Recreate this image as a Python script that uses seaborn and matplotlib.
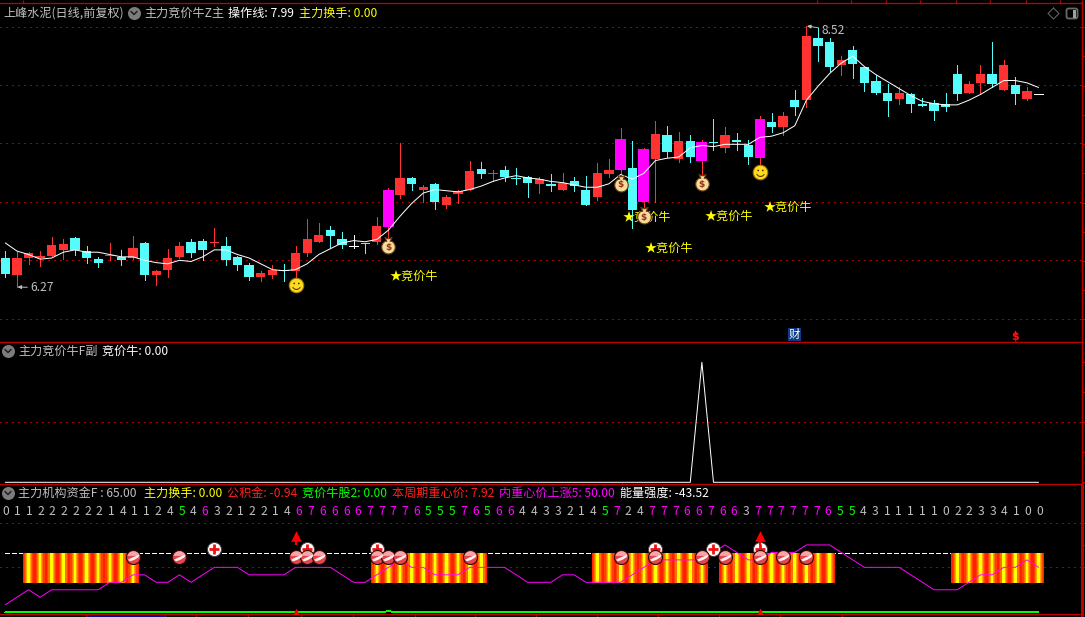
import numpy as np
import pandas as pd
import seaborn as sns
import matplotlib
matplotlib.use("Agg")
import matplotlib.pyplot as plt
from matplotlib.path import Path
from matplotlib.patches import FancyBboxPatch, Rectangle

# ---------------------------------------------------------------- data
open_p = [6.52,6.37,6.52,6.52,6.54,6.59,6.69,6.58,6.51,6.54,6.53,6.52,6.65,6.37,6.42,6.53,6.66,6.67,6.65,6.62,
          6.53,6.46,6.36,6.37,6.42,6.41,6.56,6.66,6.76,6.68,6.62,6.65,6.66,6.79,7.06,7.21,7.11,7.16,6.98,7.07,
          7.11,7.29,7.24,7.28,7.21,7.22,7.16,7.16,7.11,7.18,7.11,7.05,7.24,7.28,7.30,7.00,7.37,7.58,7.37,7.53,
          7.36,7.52,7.47,7.54,7.49,7.38,7.69,7.65,7.88,7.88,8.42,8.38,8.18,8.31,8.17,8.05,7.94,7.89,7.93,7.85,
          7.86,7.85,8.11,7.94,8.03,8.11,7.97,8.01,7.89,7.93]
high_p = [6.58,6.58,6.57,6.58,6.70,6.68,6.70,6.62,6.53,6.65,6.59,6.71,6.66,6.42,6.60,6.66,6.68,6.68,6.78,6.70,
          6.54,6.48,6.41,6.46,6.47,6.62,6.86,6.82,6.80,6.74,6.72,6.65,6.87,7.12,7.51,7.22,7.15,7.17,7.06,7.11,
          7.36,7.35,7.28,7.31,7.30,7.23,7.22,7.24,7.25,7.22,7.23,7.34,7.37,7.64,7.53,7.47,7.70,7.66,7.61,7.58,
          7.54,7.72,7.65,7.60,7.54,7.74,7.77,7.78,7.97,8.52,8.50,8.42,8.26,8.35,8.17,8.10,8.02,7.99,7.94,7.90,
          7.88,7.94,8.18,8.05,8.18,8.38,8.23,8.08,7.99,7.93]
low_p  = [6.36,6.27,6.47,6.45,6.54,6.51,6.55,6.48,6.44,6.50,6.46,6.51,6.33,6.29,6.36,6.52,6.53,6.50,6.62,6.46,
          6.42,6.33,6.32,6.35,6.32,6.35,6.54,6.66,6.61,6.61,6.61,6.56,6.64,6.69,7.04,7.11,7.00,6.94,6.95,6.99,
          7.11,7.21,7.18,7.18,7.16,7.05,7.08,7.10,7.11,7.10,6.98,7.02,7.22,7.24,6.78,6.93,7.00,7.39,7.35,7.35,
          7.24,7.45,7.43,7.45,7.33,7.32,7.61,7.58,7.75,7.82,8.22,8.13,8.10,8.07,7.96,7.93,7.74,7.85,7.78,7.83,
          7.71,7.79,7.88,7.94,7.93,7.99,7.97,7.85,7.88,7.93]
close_p = [6.38,6.52,6.56,6.54,6.63,6.64,6.59,6.52,6.48,6.55,6.50,6.61,6.37,6.41,6.52,6.62,6.56,6.59,6.66,6.50,
           6.46,6.36,6.39,6.42,6.41,6.56,6.68,6.72,6.71,6.63,6.62,6.64,6.80,7.11,7.21,7.16,7.13,7.00,7.05,7.10,
           7.27,7.24,7.25,7.22,7.20,7.17,7.20,7.14,7.17,7.14,6.98,7.25,7.28,7.55,6.93,7.46,7.59,7.43,7.53,7.39,
           7.52,7.51,7.58,7.52,7.39,7.72,7.65,7.74,7.82,8.43,8.35,8.17,8.23,8.19,8.03,7.94,7.87,7.94,7.85,7.83,
           7.79,7.82,7.93,8.02,8.11,8.02,8.18,7.93,7.96,7.93]
ma_line = [6.65,6.58,6.55,6.51,6.52,6.57,6.59,6.57,6.57,6.55,6.53,6.53,6.50,6.48,6.47,6.50,6.49,6.53,6.59,6.59,
           6.55,6.52,6.47,6.42,6.41,6.42,6.47,6.55,6.60,6.65,6.67,6.66,6.68,6.76,6.88,6.99,7.08,7.11,7.10,7.09,
           7.11,7.14,7.18,7.21,7.23,7.21,7.20,7.18,7.17,7.15,7.13,7.13,7.16,7.24,7.20,7.25,7.36,7.38,7.39,7.47,
           7.49,7.48,7.50,7.50,7.50,7.56,7.57,7.60,7.66,7.88,8.00,8.11,8.20,8.26,8.17,8.10,8.04,7.98,7.92,7.87,
           7.85,7.84,7.84,7.88,7.93,7.99,8.05,8.05,8.03,7.99]
signal_days = [33, 53, 55, 60, 65]          # magenta candles
bag_days = [33, 53, 55, 60]
bag_prices = [6.63, 7.17, 6.89, 7.175]
smile_days = [25, 65]
smile_prices = [6.287, 7.261]
label_days = [33.1, 53.2, 55.1, 60.2, 65.3]
label_prices = [6.365, 6.87, 6.606, 6.88, 6.96]
grid_prices = [5.99, 6.50, 7.00, 7.51, 8.01, 8.51]

spike_values = [0.0]*60 + [100.0] + [0.0]*29

digits = [0,1,1,2,2,2,2,2,2,1,4,1,1,2,4,5,4,6,3,2,1,2,2,1,4,6,7,6,6,6,6,7,7,7,7,6,5,5,5,7,6,5,6,6,4,
          4,3,3,2,1,4,5,7,2,4,7,7,7,6,6,7,6,6,3,7,7,7,7,7,7,6,5,5,4,3,1,1,1,1,1,0,2,2,3,3,4,1,0,0]
level_line = [0,1,2,1,2,2,2,2,2,3,3,4,4,3,3,4,3,4,5,5,5,4,4,4,4,5,5,5,5,4,3,3,4,5,6,5,5,4,4,4,
              5,5,5,5,4,3,3,3,4,4,3,3,3,3,4,5,6,6,6,6,6,7,8,7,6,6,7,7,7,8,8,8,7,6,5,5,5,5,4,3,
              2,2,2,3,4,4,5,5,6,5]
bottom_line = [-1.02]*33 + [-0.88] + [-1.02]*56
band_spans = [(2, 11), (32, 41), (51, 60), (62, 71), (82, 89)]
band_low, band_high = 2.905, 6.88
ball_days = [11, 15, 25, 26, 27, 32, 33, 34, 40, 53, 56, 60, 62, 65, 67, 69]
plus_days = [18, 26, 32, 56, 61, 65]
arrow_days = [25, 65]

# ---------------------------------------------------------------- style
sns.set_theme(style="dark", rc={"figure.facecolor": "black", "axes.facecolor": "black",
                                "savefig.facecolor": "black"})
plt.rcParams["font.family"] = ["Noto Sans CJK SC", "DejaVu Sans"]
plt.rcParams["axes.unicode_minus"] = False

RED_LINE = "#c00000"
DOT = "#a00000"
RED = "#ff3232"
CYAN = "#54fcfc"
MAG = "#ff00ff"
GRAY = "#c0c0c0"
YEL = "#ffff00"
W, H = 1085, 617
FS = 8.7
THIN = 0.7
CURVE = 0.72

fig = plt.figure(figsize=(W/100, H/100), dpi=100, facecolor="black")


def panel(top, bottom, right=1081.5):
    return fig.add_axes([0, 1-bottom/H, right/W, (bottom-top)/H])


ax1 = panel(3.3, 342.3)
ax2 = panel(342.3, 484.3)
ax3 = panel(484.3, 614.3)
xlim = (-0.457, 92.7)
for a in (ax1, ax2, ax3):
    a.set_xlim(*xlim)
    a.set_facecolor("black")
    a.set_xticks([])
    a.yaxis.tick_right()
    a.tick_params(axis="y", length=2.2, width=0.8, color=RED_LINE, labelright=False, right=True, pad=0)
    a.grid(False)
    for s in a.spines.values():
        s.set_color(RED_LINE)
        s.set_linewidth(0.9)
    a.spines["left"].set_visible(False)
ax3.spines["right"].set_linewidth(2.0)

ax1.set_ylim(8.744-0.00862*342.3, 8.744-0.00862*3.3)
ax2.set_ylim(-1.67, 116.67)
ax3.set_ylim(-1.285, 16.12)
ax1.set_yticks(np.linspace(grid_prices[0], grid_prices[-1], 11))
ax2.set_yticks([0, 25, 50, 75, 100])
ax3.set_yticks([5, 8, 11])

dotted = (0, (1.2, 3.8))
for g in grid_prices:
    ax1.axhline(g, color=DOT, lw=0.8, ls=dotted, zorder=1, antialiased=False)
ax2.axhline(50, color=DOT, lw=0.8, ls=dotted, zorder=1, antialiased=False)
for g in (5, 11):
    ax3.axhline(g, color=DOT, lw=0.8, ls=dotted, zorder=1, antialiased=False)

# ---------------------------------------------------------------- candles
df = pd.DataFrame({"i": np.arange(len(open_p)), "o": open_p, "h": high_p, "l": low_p, "c": close_p, "ma": ma_line})
for r in df.itertuples():
    if r.i in signal_days:
        body, wick, width = MAG, RED, 0.93
    elif r.c > r.o:
        body, wick, width = RED, RED, 0.8
    elif r.c < r.o:
        body, wick, width = CYAN, CYAN, 0.8
    else:
        body, wick, width = "white", "white", 0.72
    ax1.vlines(r.i, r.l, r.h, color=wick, lw=THIN, zorder=3, antialiased=False)
    if r.c == r.o:
        ax1.hlines(r.c, r.i-width/2, r.i+width/2, color=body, lw=THIN, zorder=3, antialiased=False)
    else:
        ax1.bar(r.i, abs(r.c-r.o), bottom=min(r.o, r.c), width=width, color=body, lw=0, zorder=4, antialiased=False)
sns.lineplot(data=df, x="i", y="ma", ax=ax1, color="white", lw=CURVE, estimator=None, errorbar=None,
             legend=False, zorder=5)
ax1.set_xlabel("")
ax1.set_ylabel("")


def shape(*polys):
    verts, codes = [], []
    for p in list(polys) + [[(1, 1), (1, 1), (1, 1)]]:
        verts += list(p) + [p[0]]
        codes += [Path.MOVETO] + [Path.LINETO]*(len(p)-1) + [Path.CLOSEPOLY]
    return Path(verts, codes)


def arc(cx, cy, r, a0, a1, n=14):
    t = np.radians(np.linspace(a0, a1, n))
    return [(cx+r*np.cos(v), cy+r*np.sin(v)) for v in t]


bag = shape([(-.2, .5), (-.42, .95), (-.1, .8), (.1, .8), (.42, .95), (.2, .5)] + arc(0, -.2, .8, 60, -240, 22))
bag_size = (17*.72)**2
ax1.scatter(bag_days, bag_prices, marker=bag, s=bag_size, c="#f4dc9c", edgecolors="#6b3a10", linewidths=.8, zorder=8)
for d, p in zip(bag_days, bag_prices):
    ax1.text(d, p-0.018, "$", color="#9a3010", fontsize=6.5, fontweight="bold", ha="center", va="center",
             family="DejaVu Sans", zorder=9)
ax1.scatter(smile_days, smile_prices, s=(14.5*.72)**2, c="#ffdc1e", edgecolors="#a87810", linewidths=.8, zorder=8)
face = shape(arc(-.32, .28, .13, 0, 360, 8), arc(.32, .28, .13, 0, 360, 8),
             arc(0, 0, .62, 200, 340, 10) + arc(0, .05, .52, 335, 205, 10))
ax1.scatter(smile_days, smile_prices, marker=face, s=(14.5*.72)**2, c="#503000", linewidths=0, zorder=9)
for d, p in zip(label_days, label_prices):
    ax1.text(d, p, "★竞价牛", color=YEL, fontsize=FS, va="center", ha="left", zorder=7)

arrow = dict(arrowstyle="-|>,head_width=.12,head_length=.25", color=GRAY, lw=.7, shrinkA=0, shrinkB=0)
ax1.annotate("6.27", xy=(df.i[1]+.05, min(low_p)), xytext=(9.4, -.5), textcoords="offset points", color=GRAY,
             fontsize=FS, va="center", arrowprops=arrow, zorder=8)
ax1.annotate("8.52", xy=(df.i[69]+.05, max(high_p)), xytext=(10.6, -3), textcoords="offset points", color=GRAY,
             fontsize=FS, va="center", arrowprops=arrow, zorder=8)

# ---------------------------------------------------------------- middle panel
sns.lineplot(x=df.i, y=spike_values, ax=ax2, color="white", lw=CURVE, estimator=None, errorbar=None,
             legend=False, zorder=4)
ax2.set_xlabel("")
ax2.set_ylabel("")

# ---------------------------------------------------------------- lower panel
ax3.hlines(6.88, 0, 89, color="white", lw=THIN, ls=(0, (4.6, 3.0)), zorder=2, antialiased=False)
stripes = [(1.0, "#ff2000"), (0.78, "#ff4000"), (0.56, "#ff7000"), (0.36, "#ffa800"), (0.22, "#ffff00")]
for a, b in band_spans:
    days = np.arange(a, b+1)
    for width, colour in stripes:
        ax3.bar(days, band_high-band_low, bottom=band_low, width=width, color=colour, lw=0, zorder=3, antialiased=False)
sns.lineplot(x=df.i, y=level_line, ax=ax3, color=MAG, lw=CURVE, estimator=None, errorbar=None,
             legend=False, zorder=5)
sns.lineplot(x=df.i, y=bottom_line, ax=ax3, color="#00ff00", lw=THIN, estimator=None, errorbar=None,
             legend=False, zorder=5, antialiased=False)
ax3.set_xlabel("")
ax3.set_ylabel("")

ax3.scatter(arrow_days, [-1.0]*len(arrow_days), marker="^", s=32, c="#ff0000", linewidths=0, zorder=6)
ax3.vlines(arrow_days, 8.0, 9.2, color="#ff0000", lw=1.5, zorder=8)
ax3.scatter(arrow_days, [9.2]*len(arrow_days), marker="^", s=58, c="#ff0000", linewidths=0, zorder=8)

dot_size = (14*.72)**2
plus_levels = [7.4]*len(plus_days)
ax3.scatter(plus_days, plus_levels, s=dot_size, c="white", edgecolors="#404040", linewidths=.7, zorder=6)
ax3.scatter(plus_days, plus_levels, marker="+", s=52, c="#f01010", linewidths=2, zorder=7)

ball_levels = [6.43]*len(ball_days)
ax3.scatter(ball_days, ball_levels, s=dot_size, c="#e2464c", edgecolors="#300808", linewidths=.8, zorder=9)
cap = shape(arc(0, 0, .9, 15, 165))
swoosh = shape([(-.78, -.32), (-.2, -.02), (.82, .42), (.74, .05), (.1, -.35), (-.5, -.55)])
ax3.scatter(ball_days, ball_levels, marker=cap, s=dot_size, c="#f6a6a8", linewidths=0, zorder=10)
ax3.scatter(ball_days, ball_levels, marker=swoosh, s=dot_size, c="#fff0f0", linewidths=0, zorder=11)

digit_x = np.linspace(0, 89.1, len(digits))
for x, d in zip(digit_x, digits):
    colour = MAG if d >= 6 else ("#00ff00" if d == 5 else GRAY)
    ax3.text(x, 12.54, str(d), color=colour, fontsize=FS, ha="center", va="center", zorder=6)

# ---------------------------------------------------------------- pixel overlay
ov = fig.add_axes([0, 0, 1, 1], zorder=20)
ov.set_xlim(0, W)
ov.set_ylim(H, 0)
ov.axis("off")
ov.patch.set_alpha(0)


def label(x, y, s, colour):
    ov.text(x, y, s, color=colour, fontsize=FS, va="center", ha="left")


def chevron(x, y):
    ov.scatter([x], [y], s=(13*.72)**2, c="#7c7c7c", linewidths=0, zorder=3)
    ov.plot([x-3, x, x+3], [y-1.5, y+1.5, y-1.5], color="#202020", lw=1.1, zorder=4)


label(3, 13, "上峰水泥(日线,前复权)", GRAY)
chevron(134, 13)
label(144, 13, "主力竞价牛Z主", GRAY)
label(228, 13, "操作线: 7.99", "white")
label(299, 13, "主力换手: 0.00", YEL)

chevron(8, 351)
label(18, 351, "主力竞价牛F副", GRAY)
label(102, 351, "竞价牛: 0.00", "white")

chevron(8, 493)
label(18, 493, "主力机构资金F : 65.00", GRAY)
label(144, 493, "主力换手: 0.00", YEL)
label(227, 493, "公积金: -0.94", "#ff2020")
label(302, 493, "竞价牛股2: 0.00", "#00ff00")
label(392, 493, "本周期重心价: 7.92", "#ff2020")
label(499, 493, "内重心价上涨5: 50.00", MAG)
label(620, 493, "能量强度: -43.52", "white")

# top and bottom date strips
ov.vlines([23, 816.7, 850.7, 885.7, 920, 955.7, 990, 1025.7, 1060], 0, 3.3, color=RED_LINE, lw=0.9)
ov.vlines([86, 165, 196, 248, 301, 353, 415, 475, 536, 597, 658, 719, 780, 842], 614.3, 617, color=RED_LINE, lw=0.9)
ov.add_patch(Rectangle((87, 615), 78, 2, color="#000090", lw=0))
ov.vlines(1081.5, 0, 484, color=RED_LINE, lw=0.9)
ov.vlines(1081.5, 484, 617, color=RED_LINE, lw=2.0)

# window buttons
ov.plot([1053.5, 1059, 1053.5, 1048, 1053.5], [8, 13.5, 19, 13.5, 8], color="#606060", lw=0.8)
ov.add_patch(FancyBboxPatch((1067, 9), 10, 9, boxstyle="round,pad=0.5,rounding_size=2", fc="none", ec="#686868", lw=1.3))
ov.add_patch(Rectangle((1072.5, 9.5), 3.5, 8, color="#a0a0a0", lw=0))

# event badges above the main panel's base
ov.add_patch(Rectangle((788, 328), 13, 13, color="#0c3c88", lw=0))
ov.text(794.5, 334.5, "财", color="white", fontsize=8.2, ha="center", va="center")
ov.text(1015, 336.5, "$", color="#ff1010", fontsize=8, fontweight="bold", ha="center", va="center", family="DejaVu Sans")
ov.scatter([1015], [331.5], marker="^", s=10, c="#ff1010", linewidths=0)

fig.savefig("out.png", dpi=100, facecolor="black")
